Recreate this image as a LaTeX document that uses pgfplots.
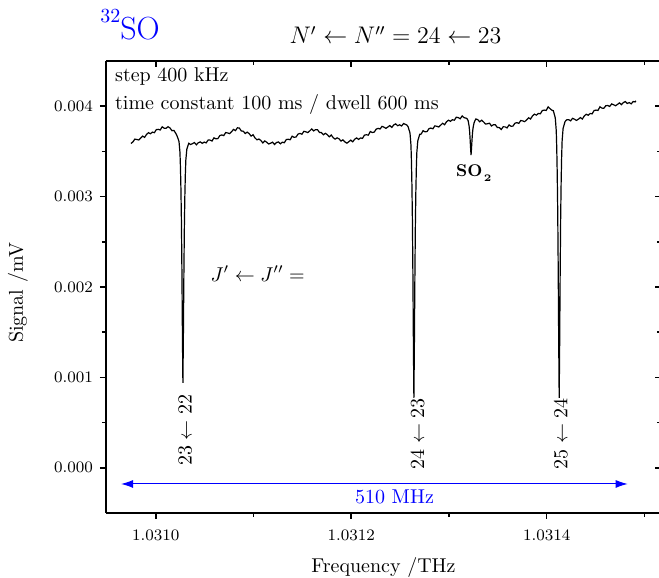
\documentclass[border=0pt]{standalone}
\usepackage{pgfplots}
\pgfplotsset{compat=1.18}
\usepackage{pgfplotstable}
\usetikzlibrary{arrows.meta}

% x = frequency offset from 1.0310 THz, in MHz ; y = signal in mV
\pgfplotstableread{
x y
-25.5 3.588e-3
-23.5 3.604e-3
-21.5 3.636e-3
-19.5 3.632e-3
-17.5 3.626e-3
-15.5 3.647e-3
-13.5 3.669e-3
-11.5 3.655e-3
-9.5 3.688e-3
-7.5 3.707e-3
-5.5 3.695e-3
-3.5 3.713e-3
-1.5 3.707e-3
0.5 3.741e-3
2.5 3.744e-3
4.5 3.737e-3
6.5 3.772e-3
8.5 3.757e-3
10.5 3.756e-3
12.5 3.773e-3
14.5 3.759e-3
16.5 3.729e-3
18.5 3.732e-3
20.5 3.698e-3
21.7 3.672e-3
23.7 3.611e-3
24.7 3.488e-3
25.2 3.324e-3
25.7 3.077e-3
26.2 2.721e-3
26.7 2.172e-3
27.2 1.487e-3
27.7 0.939e-3
28.2 1.469e-3
28.7 2.132e-3
29.2 2.662e-3
29.7 3.007e-3
30.2 3.245e-3
30.7 3.404e-3
31.7 3.524e-3
33.7 3.590e-3
35.5 3.576e-3
37.5 3.586e-3
39.5 3.598e-3
41.5 3.573e-3
43.5 3.596e-3
45.5 3.605e-3
47.5 3.589e-3
49.5 3.603e-3
51.5 3.594e-3
53.5 3.625e-3
55.5 3.625e-3
57.5 3.615e-3
59.5 3.650e-3
61.5 3.639e-3
63.5 3.642e-3
65.5 3.675e-3
67.5 3.682e-3
69.5 3.675e-3
71.5 3.708e-3
73.5 3.704e-3
75.5 3.697e-3
77.5 3.718e-3
79.5 3.743e-3
81.5 3.730e-3
83.5 3.761e-3
85.5 3.758e-3
87.5 3.726e-3
89.5 3.723e-3
91.5 3.698e-3
93.5 3.713e-3
95.5 3.697e-3
97.5 3.669e-3
99.5 3.684e-3
101.5 3.649e-3
103.5 3.628e-3
105.5 3.637e-3
107.5 3.621e-3
109.5 3.594e-3
111.5 3.616e-3
113.5 3.601e-3
115.5 3.582e-3
117.5 3.591e-3
119.5 3.602e-3
121.5 3.576e-3
123.5 3.598e-3
125.5 3.605e-3
127.5 3.584e-3
129.5 3.602e-3
131.5 3.596e-3
133.5 3.631e-3
135.5 3.634e-3
137.5 3.629e-3
139.5 3.668e-3
141.5 3.656e-3
143.5 3.659e-3
145.5 3.691e-3
147.5 3.699e-3
149.5 3.690e-3
151.5 3.722e-3
153.5 3.717e-3
155.5 3.708e-3
157.5 3.727e-3
159.5 3.748e-3
161.5 3.727e-3
163.5 3.741e-3
165.5 3.740e-3
167.5 3.709e-3
169.5 3.708e-3
171.5 3.684e-3
173.5 3.700e-3
175.5 3.685e-3
177.5 3.661e-3
179.5 3.681e-3
181.5 3.652e-3
183.5 3.636e-3
185.5 3.650e-3
187.5 3.639e-3
189.5 3.614e-3
191.5 3.628e-3
193.5 3.605e-3
195.5 3.591e-3
197.5 3.607e-3
199.5 3.625e-3
201.5 3.606e-3
203.5 3.635e-3
205.5 3.649e-3
207.5 3.633e-3
209.5 3.649e-3
211.5 3.644e-3
213.5 3.680e-3
215.5 3.684e-3
217.5 3.680e-3
219.5 3.720e-3
221.5 3.709e-3
223.5 3.713e-3
225.5 3.746e-3
227.5 3.755e-3
229.5 3.748e-3
231.5 3.777e-3
233.5 3.768e-3
235.5 3.755e-3
237.5 3.770e-3
239.5 3.786e-3
241.5 3.765e-3
243.5 3.793e-3
245.5 3.804e-3
247.5 3.784e-3
249.5 3.794e-3
251.5 3.781e-3
253.5 3.808e-3
255.5 3.799e-3
256.8 3.792e-3
258.1 3.775e-3
260.1 3.705e-3
261.1 3.570e-3
261.6 3.389e-3
262.1 3.118e-3
262.6 2.728e-3
263.1 2.126e-3
263.6 1.374e-3
264.1 0.773e-3
264.6 1.356e-3
265.1 2.086e-3
265.6 2.669e-3
266.1 3.048e-3
266.6 3.311e-3
267.1 3.486e-3
268.1 3.617e-3
270.1 3.690e-3
271.5 3.691e-3
273.5 3.729e-3
275.5 3.717e-3
277.5 3.719e-3
279.5 3.751e-3
281.5 3.758e-3
283.5 3.750e-3
285.5 3.782e-3
287.5 3.778e-3
289.5 3.770e-3
291.5 3.790e-3
293.5 3.811e-3
295.5 3.795e-3
297.5 3.828e-3
299.5 3.845e-3
301.5 3.833e-3
303.5 3.850e-3
305.5 3.845e-3
307.5 3.878e-3
309.5 3.874e-3
311.5 3.861e-3
313.5 3.892e-3
315.5 3.873e-3
317.5 3.868e-3
318.6 3.860e-3
319.6 3.841e-3
320.6 3.780e-3
321.1 3.726e-3
321.6 3.644e-3
322.1 3.542e-3
322.6 3.459e-3
323.1 3.536e-3
323.6 3.631e-3
324.1 3.707e-3
324.6 3.756e-3
325.6 3.813e-3
326.6 3.840e-3
327.5 3.859e-3
329.5 3.851e-3
331.5 3.828e-3
333.5 3.845e-3
335.5 3.825e-3
337.5 3.802e-3
339.5 3.806e-3
341.5 3.812e-3
343.5 3.781e-3
345.5 3.795e-3
347.5 3.794e-3
349.5 3.764e-3
351.5 3.763e-3
353.5 3.743e-3
355.5 3.772e-3
357.5 3.771e-3
359.5 3.760e-3
361.5 3.793e-3
363.5 3.778e-3
365.5 3.780e-3
367.5 3.812e-3
369.5 3.818e-3
371.5 3.810e-3
373.5 3.842e-3
375.5 3.837e-3
377.5 3.829e-3
379.5 3.849e-3
381.5 3.872e-3
383.5 3.858e-3
385.5 3.893e-3
387.5 3.912e-3
389.5 3.901e-3
391.5 3.920e-3
393.5 3.916e-3
395.5 3.952e-3
397.5 3.957e-3
399.5 3.953e-3
401.5 3.993e-3
403.5 3.972e-3
405.5 3.955e-3
406.8 3.950e-3
408.8 3.871e-3
409.8 3.728e-3
410.3 3.537e-3
410.8 3.251e-3
411.3 2.838e-3
411.8 2.203e-3
412.3 1.408e-3
412.8 0.773e-3
413.3 1.384e-3
413.8 2.149e-3
414.3 2.760e-3
414.8 3.157e-3
415.3 3.433e-3
415.8 3.616e-3
416.8 3.754e-3
418.8 3.830e-3
420.5 3.849e-3
422.5 3.851e-3
424.5 3.838e-3
426.5 3.866e-3
428.5 3.856e-3
430.5 3.843e-3
432.5 3.857e-3
434.5 3.874e-3
436.5 3.858e-3
438.5 3.892e-3
440.5 3.911e-3
442.5 3.900e-3
444.5 3.919e-3
446.5 3.915e-3
448.5 3.952e-3
450.5 3.957e-3
452.5 3.953e-3
454.5 3.993e-3
456.5 3.979e-3
458.5 3.977e-3
460.5 4.005e-3
462.5 4.008e-3
464.5 3.997e-3
466.5 4.025e-3
468.5 4.016e-3
470.5 4.005e-3
472.5 4.020e-3
474.5 4.037e-3
476.5 4.017e-3
478.5 4.041e-3
480.5 4.051e-3
482.5 4.030e-3
484.5 4.040e-3
486.5 4.026e-3
488.5 4.052e-3
490.5 4.047e-3
491.3 4.060e-3
}\spectrum

\pgfplotsset{
  common/.style={
    at={(53pt,32.5pt)}, anchor=south west,
    scale only axis, width=277.5pt, height=226pt,
    xmin=-51, xmax=517, ymin=-0.0005, ymax=0.0045,
    xtick={0,200,400}, minor xtick={100,300,500},
    ytick={0,0.001,0.002,0.003,0.004},
    minor ytick={0.0005,0.0015,0.0025,0.0035},
    major tick length=3pt, minor tick length=2pt,
    axis line style={line width=0.8pt,-},
    tick style={line width=0.8pt,black},
    scaled ticks=false,
  }
}

\begin{document}
\begin{tikzpicture}
\useasboundingbox (0,0) rectangle (329.5pt,289pt);

\begin{axis}[common,
  clip mode=individual,
  axis x line*=bottom, axis y line*=left, tick align=outside,
  xticklabels={1.0310,1.0312,1.0314},
  yticklabels={0.000,0.001,0.002,0.003,0.004},
  ticklabel style={font=\footnotesize},
  xticklabel style={yshift=-2pt},
  xlabel={Frequency /THz}, ylabel={Signal /mV},
  xlabel style={at={(axis description cs:0.5,-0.1327)}, anchor=base},
  ylabel style={at={(axis description cs:-0.1586,0.487)}, anchor=center},
]
\addplot[black, line width=0.6pt, mark=none] table[x=x, y=y] {\spectrum};

\node[anchor=base west, inner sep=0] at (axis cs:-42,0.004273) {step 400 kHz};
\node[anchor=base west, inner sep=0] at (axis cs:-42,0.003963) {time constant 100 ms / dwell 600 ms};
\node[anchor=base west, inner sep=0, font=\fontsize{8.5}{10}\selectfont\bfseries]
  at (axis cs:306.9,0.003217) {SO\kern0.8pt\raisebox{-2.5pt}{\fontsize{5}{6}\selectfont 2}};
\node[anchor=base west, inner sep=0] at (axis cs:55.7,0.002066) {$J' \leftarrow J'' =$};
\node[rotate=90, inner sep=0] at (axis cs:30.0,0.000418) {$23 \leftarrow 22$};
\node[rotate=90, inner sep=0] at (axis cs:267.9,0.000374) {$24 \leftarrow 23$};
\node[rotate=90, inner sep=0] at (axis cs:414.5,0.000374) {$25 \leftarrow 24$};
\draw[blue, line width=0.5pt, {Latex[length=6pt,width=4pt]}-{Latex[length=6pt,width=4pt]}]
  (axis cs:-35.6,-0.000179) -- (axis cs:482.9,-0.000179);
\node[blue, anchor=base, inner sep=0] at (axis cs:244.3,-0.0004004) {510 MHz};

\node[anchor=base, inner sep=0, font=\large] at ([yshift=8.5pt]axis description cs:0.5217,1)
  {$N' \leftarrow N'' = 24 \leftarrow 23$};
\node[anchor=base west, inner sep=0, blue] at ([xshift=-3pt,yshift=10.5pt]axis description cs:0,1)
  {\raisebox{9pt}{\fontsize{10}{12}\selectfont 32}\fontsize{16}{19}\selectfont SO};
\end{axis}

\begin{axis}[common,
  axis x line*=top, axis y line*=right, tick align=inside,
  xticklabels={}, yticklabels={},
]
\end{axis}
\end{tikzpicture}
\end{document}
